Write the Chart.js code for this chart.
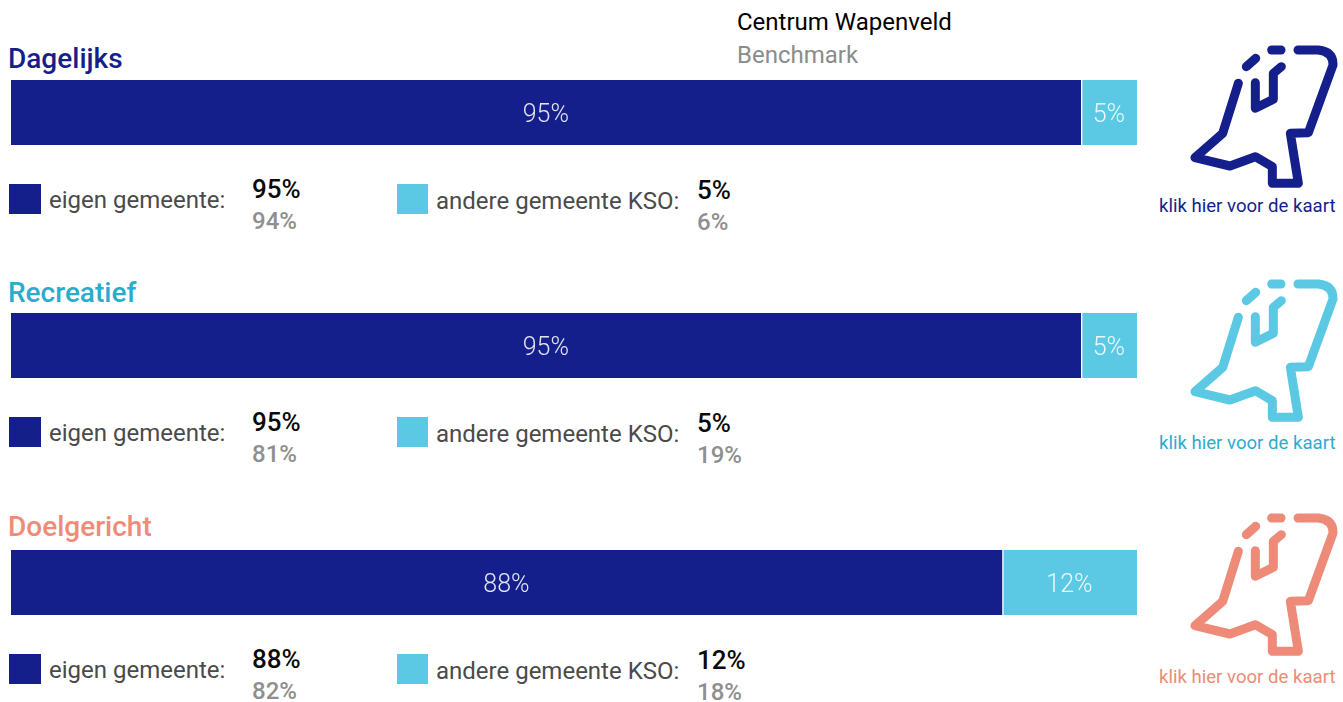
<!DOCTYPE html>
<html lang="nl">
<head>
<meta charset="utf-8">
<title>Centrum Wapenveld</title>
<script src="https://cdn.jsdelivr.net/npm/chart.js@4"></script>
<style>
  html, body { margin: 0; padding: 0; background: #fff; overflow: hidden; }
  body { position: relative; width: 1343px; height: 702px; font-family: Roboto, sans-serif; }
  .txt { position: absolute; white-space: nowrap; line-height: 30px; height: 30px; }
  .header { font-size: 24px; }
  .title { font-size: 28px; font-weight: 500; }
  .legend { font-size: 24px; color: #4a4a4a; }
  .val { font-size: 26px; font-weight: 500; color: #0a0a0a; }
  .bench { font-size: 24px; font-weight: 500; color: #8f8f8f; }
  .link { font-size: 18.6px; }
  .swatch { position: absolute; height: 30px; }
  .barBox { position: absolute; left: 11px; width: 1126px; height: 65px; }
  svg { position: absolute; left: 1150px; fill: none; stroke-width: 27; stroke-linecap: round; stroke-linejoin: round; }
</style>
</head>
<body>
<script>
const categories = ['Dagelijks', 'Recreatief', 'Doelgericht'];
const eigenValues = [95, 95, 88];
const andereValues = [5, 5, 12];
const eigenBenchmark = [94, 81, 82];
const andereBenchmark = [6, 19, 18];
const eigenLabel = 'eigen gemeente:';
const andereLabel = 'andere gemeente KSO:';
const linkLabel = 'klik hier voor de kaart';

const darkBlue = '#151f8b';
const lightBlue = '#5bc8e4';
const titleColors = [darkBlue, '#2aaccd', '#f08b78'];
const iconColors = [darkBlue, lightBlue, '#ee8a78'];

// y centres of each row, the rows are not spaced evenly
const barTops = [80, 313, 550];
const titleY = [59, 293, 527];
const swatchY = [199, 432, 669];
const valueY = [189, 422, 659];
const benchY = [221, 454, 691];
const iconTops = [30, 264, 498];
const linkY = [206, 443, 677];

function addText(cls, text, x, centerY, color) {
    const el = document.createElement('div');
    el.className = 'txt ' + cls;
    el.textContent = text;
    el.style.left = x + 'px';
    el.style.top = (centerY - 15) + 'px';
    if (color) el.style.color = color;
    document.body.appendChild(el);
}

function addSwatch(x, width, centerY, color) {
    const el = document.createElement('div');
    el.className = 'swatch';
    el.style.left = x + 'px';
    el.style.width = width + 'px';
    el.style.top = (centerY - 15) + 'px';
    el.style.background = color;
    document.body.appendChild(el);
}

function addIcon(top, color) {
    const ns = 'http://www.w3.org/2000/svg';
    const svg = document.createElementNS(ns, 'svg');
    svg.setAttribute('viewBox', '0 0 579 570');
    svg.setAttribute('width', 193);
    svg.setAttribute('height', 190);
    svg.style.top = top + 'px';
    svg.style.stroke = color;
    const shapes = [
        'M444 60 L505 60 Q550 65 549 105 L475 308 L421 310 L445 460 L367 460 L367 410 L316 380 L240 408 L135 383 L218 310 L265 160',
        'M316 158 L316 235 L370 208 L370 130 L394 110',
        'M289 110 L317 85',
        'M365 60 L393 60'
    ];
    shapes.forEach(d => {
        const p = document.createElementNS(ns, 'path');
        p.setAttribute('d', d);
        svg.appendChild(p);
    });
    document.body.appendChild(svg);
}

// Percent labels in the middle of each bar segment
const segmentLabels = {
    id: 'segmentLabels',
    afterDatasetsDraw(chart) {
        const ctx = chart.ctx;
        ctx.save();
        ctx.fillStyle = 'rgba(255,255,255,0.88)';
        ctx.font = '300 25px Roboto';
        ctx.textAlign = 'center';
        ctx.textBaseline = 'middle';
        chart.data.datasets.forEach((ds, i) => {
            const bar = chart.getDatasetMeta(i).data[0];
            ctx.fillText(ds.data[0] + '%', bar.base + (bar.x - bar.base) / 2, bar.y + 3);
        });
        ctx.restore();
    }
};

function drawBar(i) {
    const box = document.createElement('div');
    box.className = 'barBox';
    box.style.top = barTops[i] + 'px';
    const canvas = document.createElement('canvas');
    box.appendChild(canvas);
    document.body.appendChild(box);

    new Chart(canvas, {
        type: 'bar',
        data: {
            labels: [categories[i]],
            datasets: [
                {
                    label: 'eigen gemeente',
                    data: [eigenValues[i]],
                    backgroundColor: darkBlue
                },
                {
                    label: 'andere gemeente KSO',
                    data: [andereValues[i]],
                    backgroundColor: lightBlue,
                    borderColor: '#fff',
                    borderWidth: { left: 2, right: 0, top: 0, bottom: 0 },
                    borderSkipped: false
                }
            ]
        },
        options: {
            indexAxis: 'y',
            responsive: true,
            maintainAspectRatio: false,
            animation: false,
            events: [],
            layout: { padding: 0 },
            datasets: { bar: { barPercentage: 1, categoryPercentage: 1 } },
            plugins: { legend: { display: false }, tooltip: { enabled: false } },
            scales: {
                x: { stacked: true, min: 0, max: 100, display: false },
                y: { stacked: true, display: false }
            }
        },
        plugins: [segmentLabels]
    });
}

addText('header', 'Centrum Wapenveld', 737, 22, '#000');
addText('header', 'Benchmark', 737, 55, '#8c8c8c');

categories.forEach((name, i) => {
    addText('title', name, 8, titleY[i], titleColors[i]);
    drawBar(i);

    addSwatch(9, 32, swatchY[i], darkBlue);
    addText('legend', eigenLabel, 49, swatchY[i] + 1);
    addText('val', eigenValues[i] + '%', 252, valueY[i]);
    addText('bench', eigenBenchmark[i] + '%', 252, benchY[i]);

    addSwatch(397, 31, swatchY[i], lightBlue);
    addText('legend', andereLabel, 436, swatchY[i] + 2);
    addText('val', andereValues[i] + '%', 697, valueY[i] + 1);
    addText('bench', andereBenchmark[i] + '%', 697, benchY[i] + 1);

    addIcon(iconTops[i], iconColors[i]);
    addText('link', linkLabel, 1159, linkY[i], titleColors[i]);
});
</script>
</body>
</html>
